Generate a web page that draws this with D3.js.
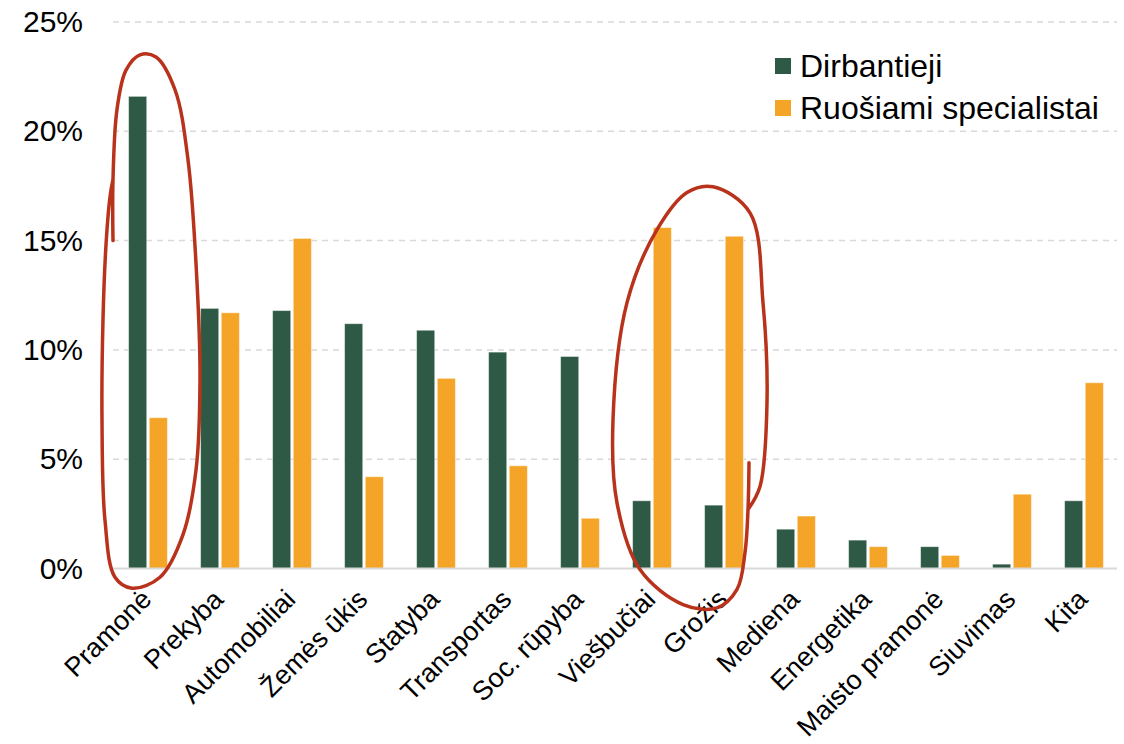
<!DOCTYPE html>
<html>
<head>
<meta charset="utf-8">
<script src="https://cdn.jsdelivr.net/npm/d3@7"></script>
<style>
  body { margin: 0; background: #fff; }
  svg { display: block; font-family: "Liberation Sans", Arial, sans-serif; }
</style>
</head>
<body>
<svg id="chart" width="1124" height="744"></svg>
<script>
// Data
var categories = ["Pramonė", "Prekyba", "Automobiliai", "Žemės ūkis", "Statyba",
    "Transportas", "Soc. rūpyba", "Viešbučiai", "Grožis", "Mediena",
    "Energetika", "Maisto pramonė", "Siuvimas", "Kita"];
var seriesNames = ["Dirbantieji", "Ruošiami specialistai"];
var dirbantieji = [21.6, 11.9, 11.8, 11.2, 10.9, 9.9, 9.7, 3.1, 2.9, 1.8, 1.3, 1.0, 0.2, 3.1];
var ruosiami = [6.9, 11.7, 15.1, 4.2, 8.7, 4.7, 2.3, 15.6, 15.2, 2.4, 1.0, 0.6, 3.4, 8.5];
var yTicks = [0, 5, 10, 15, 20, 25];
var colors = ["#2d5945", "#f4a527"];

// hand drawn red circles: [dx from group centre (px), value in %]
var circlePramone = [[-35, 15.0], [-35, 17.8], [-31, 21.0], [-22, 22.8], [-8, 23.5],
    [8, 23.4], [27, 21.9], [40, 18.7], [49, 13.1], [52, 8.6], [48, 4.5], [35, 1.55],
    [12, -0.4], [-16, -0.9], [-33, -0.4], [-43, 2.2], [-46, 6.8], [-45, 11.4],
    [-42, 14.8], [-38, 17.0], [-35, 17.8]];
var circleViesbuciai = [[97, 4.84], [96, 2.7], [93, 0.73], [85, -0.96], [65, -1.8],
    [31, -1.65], [-12, -0.05], [-35, 3.0], [-39, 6.8], [-25, 12.16], [5, 15.5],
    [35, 17.2], [61, 17.46], [98, 16.27], [111, 12.16], [115, 7.6], [108, 3.75], [96, 2.7]];

var svg = d3.select("#chart");
var margin = {left: 112, right: 4, top: 22, bottom: 176};
var W = 1124, H = 744;

var x0 = d3.scaleBand().domain(categories)
    .range([margin.left, W - margin.right])
    .paddingInner(0.46).paddingOuter(0.23);
var x1 = d3.scaleBand().domain([0, 1])
    .range([0, x0.bandwidth()]).paddingInner(0.12);
var y = d3.scaleLinear().domain([0, 25]).range([568.5, margin.top]);

// gridlines
svg.append("g").selectAll("line.grid")
    .data(yTicks.filter(function(d) { return d > 0; }))
    .enter().append("line")
    .attr("class", "grid")
    .attr("x1", 113).attr("x2", 1117)
    .attr("y1", function(d) { return y(d); })
    .attr("y2", function(d) { return y(d); })
    .style("stroke", "#d9d9d9")
    .style("stroke-width", 1.5)
    .style("stroke-dasharray", "6,5");

// y axis labels
var yAxis = d3.axisLeft(y).tickValues(yTicks)
    .tickFormat(function(d) { return d + "%"; })
    .tickSize(0).tickPadding(0);
var gy = svg.append("g").attr("transform", "translate(83,0)").call(yAxis);
gy.select(".domain").remove();
gy.selectAll("text")
    .style("font-size", "30px")
    .style("fill", "#000")
    .style("font-family", "Liberation Sans, Arial, sans-serif");

// bars
var rows = categories.map(function(c, i) {
    return {cat: c, values: [dirbantieji[i], ruosiami[i]]};
});
var groups = svg.append("g").selectAll("g.grp")
    .data(rows).enter().append("g")
    .attr("class", "grp")
    .attr("transform", function(d) { return "translate(" + x0(d.cat) + ",0)"; });

groups.selectAll("rect")
    .data(function(d) { return d.values.map(function(v, k) { return {k: k, v: v}; }); })
    .enter().append("rect")
    .attr("x", function(d) { return x1(d.k); })
    .attr("width", x1.bandwidth())
    .attr("y", function(d) { return y(d.v); })
    .attr("height", function(d) { return y(0) - y(d.v); })
    .style("fill", function(d) { return colors[d.k]; })
    .style("stroke", "rgba(255,255,255,0.5)")
    .style("stroke-width", 1);

// baseline
svg.append("line")
    .attr("x1", 113).attr("x2", 1117)
    .attr("y1", y(0)).attr("y2", y(0))
    .style("stroke", "#d9d9d9").style("stroke-width", 2);

// x labels
svg.append("g").selectAll("text.xl")
    .data(categories).enter().append("text")
    .attr("class", "xl")
    .attr("transform", function(d) {
        return "translate(" + (x0(d) + x0.bandwidth() / 2 + 5) + ",601) rotate(-45)";
    })
    .attr("text-anchor", "end")
    .style("font-size", "27px")
    .style("fill", "#000")
    .text(function(d) { return d; });

// legend
var legend = svg.append("g").attr("transform", "translate(775,58)");
seriesNames.forEach(function(name, i) {
    legend.append("rect")
        .attr("x", 0).attr("y", i * 42)
        .attr("width", 16).attr("height", 16)
        .style("fill", colors[i]);
    legend.append("text")
        .attr("x", 25).attr("y", i * 42 + 19)
        .style("font-size", "32px")
        .style("fill", "#000")
        .text(name);
});

// red annotation circles
function drawCircle(points, cat) {
    var cx = x0(cat) + x0.bandwidth() / 2;
    var line = d3.line()
        .x(function(p) { return cx + p[0]; })
        .y(function(p) { return y(p[1]); })
        .curve(d3.curveCatmullRom.alpha(0.5));
    svg.append("path")
        .attr("d", line(points))
        .style("fill", "none")
        .style("stroke", "#b9321b")
        .style("stroke-width", 3.5)
        .style("stroke-linecap", "round")
        .style("stroke-linejoin", "round");
}
drawCircle(circlePramone, "Pramonė");
drawCircle(circleViesbuciai, "Viešbučiai");
</script>
</body>
</html>
